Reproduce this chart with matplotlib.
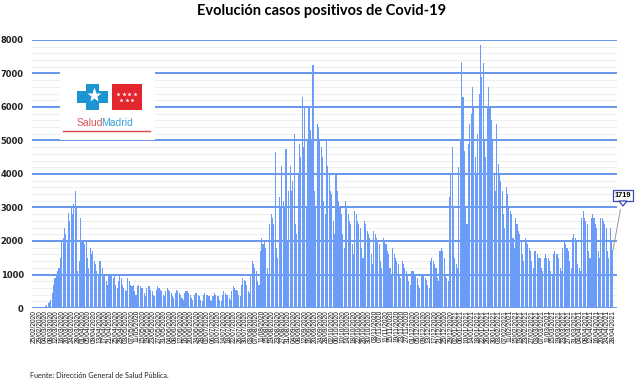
import matplotlib
matplotlib.use("Agg")
import matplotlib.pyplot as plt
from matplotlib.patches import Polygon, Rectangle
import numpy as np
import pandas as pd

# Daily positive cases, Comunidad de Madrid, from 25/02/2020 (weeks Tue..Mon)
weeks = [
    [2, 3, 5, 8, 10, 15, 25],
    [40, 70, 100, 150, 180, 250, 450],
    [700, 900, 1000, 1100, 1200, 1500, 2000],
    [2100, 2400, 2200, 2000, 2850, 2600, 3000],
    [2800, 3100, 3500, 3000, 1100, 1400, 2700],
    [2000, 2000, 1900, 2000, 1500, 1200, 1800],
    [1600, 1700, 1400, 1300, 1100, 1000, 1400],
    [1400, 1200, 1000, 1000, 800, 700, 950],
    [1000, 1000, 900, 1000, 700, 600, 800],
    [1000, 900, 700, 600, 550, 500, 900],
    [800, 700, 650, 700, 500, 400, 650],
    [700, 650, 600, 600, 450, 350, 600],
    [650, 650, 550, 500, 400, 350, 550],
    [650, 600, 550, 500, 400, 350, 500],
    [600, 550, 500, 450, 350, 300, 450],
    [550, 500, 450, 400, 300, 250, 450],
    [500, 500, 450, 400, 300, 250, 400],
    [450, 450, 400, 350, 250, 200, 400],
    [450, 400, 400, 350, 250, 200, 350],
    [450, 400, 350, 350, 250, 200, 400],
    [500, 450, 400, 400, 300, 250, 500],
    [650, 600, 550, 500, 400, 350, 700],
    [900, 850, 800, 700, 500, 450, 1000],
    [1400, 1300, 1200, 1100, 800, 700, 1700],
    [2100, 1900, 2000, 1800, 1200, 1000, 2500],
    [2800, 2700, 2500, 4650, 1800, 1500, 3300],
    [3000, 4250, 3200, 3000, 4750, 2000, 3500],
    [4250, 3500, 3800, 5200, 2500, 2200, 4000],
    [4900, 4500, 6300, 4800, 6000, 3000, 5000],
    [6000, 5300, 5000, 7250, 3500, 3000, 5500],
    [5400, 5000, 4800, 4500, 3200, 2800, 5000],
    [4250, 4000, 3500, 3400, 2600, 2200, 4000],
    [3500, 3200, 3000, 2800, 2200, 1800, 3200],
    [3000, 2800, 2600, 2500, 1900, 1600, 2900],
    [2800, 2600, 2500, 2400, 1800, 1500, 2600],
    [2500, 2300, 2200, 2100, 1600, 1300, 2300],
    [2200, 2100, 2000, 1900, 1400, 1200, 2100],
    [2000, 1900, 1700, 1600, 1200, 1000, 1800],
    [1600, 1500, 1400, 1300, 1000, 900, 1400],
    [1300, 1200, 1100, 1000, 800, 700, 1100],
    [1100, 1000, 950, 900, 700, 600, 1000],
    [1000, 950, 900, 850, 700, 600, 1400],
    [1500, 1400, 1300, 1200, 900, 800, 1700],
    [1800, 1700, 1500, 1000, 900, 800, 3300],
    [4000, 4800, 3000, 1500, 1300, 1200, 4200],
    [5000, 7340, 6300, 4700, 3000, 2500, 4900],
    [5500, 5800, 6600, 6000, 4500, 4000, 5200],
    [6400, 7850, 6900, 7300, 5000, 4500, 6000],
    [6600, 6000, 5600, 5000, 4000, 3500, 5500],
    [4300, 4000, 3800, 3500, 2800, 2400, 3600],
    [3400, 3000, 2900, 2800, 2100, 1800, 2700],
    [2500, 2300, 2200, 2000, 1600, 1400, 2100],
    [2000, 1900, 1800, 1700, 1400, 1200, 1700],
    [1700, 1600, 1500, 1500, 1200, 1100, 1500],
    [1600, 1500, 1500, 1400, 1100, 1000, 1600],
    [1700, 1600, 1600, 1500, 1200, 1100, 1800],
    [2000, 1900, 1800, 1700, 1400, 1200, 2100],
    [2200, 2100, 2000, 1300, 1200, 1100, 2700],
    [2900, 2700, 2600, 2500, 1700, 1500, 2700],
    [2800, 2700, 2500, 2400, 1700, 1500, 2700],
    [2700, 2600, 2500, 2400, 1700, 1500, 2400],
    [2000, 1719],
]
cases = [v for w in weeks for v in w]
start_date = "2020-02-25"
dates = pd.date_range(start_date, periods=len(cases), freq="D")
label_step = 4
last_value = cases[-1]

title = "Evolución casos positivos de Covid-19"
source = "Fuente: Dirección General de Salud Pública."

W, H = 644, 386
fig = plt.figure(figsize=(W / 100, H / 100), dpi=100)
ax = fig.add_axes([32 / W, 1 - 308 / H, (617 - 32) / W, (308 - 40) / H])

x = np.arange(len(cases))
ax.bar(x, cases, width=0.8, color="#6b9cf7", zorder=3, linewidth=0)

ax.set_ylim(0, 8000)
ax.set_xlim(-2, len(cases) + 2)
ax.set_yticks(np.arange(0, 8001, 1000))
ax.set_yticks(np.arange(0, 8001, 200), minor=True)
ax.grid(axis="y", which="major", color="#5b8de9", linewidth=1.3, zorder=1)
ax.grid(axis="y", which="minor", color="#ebebeb", linewidth=0.6, zorder=0)
ax.tick_params(axis="y", which="both", length=0, pad=6)
for lab in ax.get_yticklabels():
    lab.set_fontsize(6)
    lab.set_fontweight("bold")
    lab.set_color("#222222")

ticks = x[::label_step]
ax.set_xticks(ticks)
ax.set_xticklabels([dates[i].strftime("%d/%m/%Y") for i in ticks],
                   rotation=90, fontsize=4.8, family="Liberation Sans",
                   color="#111111")
ax.tick_params(axis="x", length=0, pad=1.5)
for s in ax.spines.values():
    s.set_visible(False)

fig.text(322 / W, 1 - 11 / H, title, ha="center", va="center",
         fontsize=10.5, fontweight="bold", family="Lato")
fig.text(30 / W, 1 - 376 / H, source, ha="left", va="center",
         fontsize=5.2, family="Lato", color="#222222")

# callout for last value
ax.annotate(str(last_value), xy=(x[-1], last_value), xycoords="data",
            xytext=(623, H - 195.5), textcoords="figure pixels",
            ha="center", va="center", fontsize=5.3, fontweight="bold",
            family="Liberation Sans",
            bbox=dict(boxstyle="square,pad=0.25", fc="white", ec="#3a46b8", lw=0.9),
            arrowprops=dict(arrowstyle="-", color="#9a9a9a", lw=0.7,
                            shrinkA=6, shrinkB=0),
            annotation_clip=False, zorder=6)
fig.add_artist(Polygon([[619, H - 201], [627, H - 201], [623, H - 206]],
                       closed=True, fc="white", ec="#3a46b8", lw=0.9,
                       transform=None, zorder=7))

# logo (SaludMadrid)
lg = fig.add_axes([60 / W, 1 - 140 / H, 95 / W, 72 / H])
lg.set_xlim(60, 155)
lg.set_ylim(140, 68)
lg.axis("off")
lg.add_patch(Rectangle((60, 68), 95, 72, fc="white", ec="none"))
cross = [(86, 84), (99, 84), (99, 91), (108, 91), (108, 103), (99, 103),
         (99, 110), (86, 110), (86, 103), (77, 103), (77, 91), (86, 91)]
lg.add_patch(Polygon(cross, closed=True, fc="#1e95d3", ec="none"))
lg.plot([94], [95], marker="*", ms=11, color="white", mec="none")
lg.add_patch(Rectangle((112, 84), 30, 26, fc="#e3262d", ec="none"))
for sx in [118, 123.5, 129, 134.5]:
    lg.plot([sx], [94], marker="*", ms=3.2, color="white", mec="none")
for sx in [121, 126.5, 132]:
    lg.plot([sx], [100], marker="*", ms=3.2, color="white", mec="none")
lg.text(103.5, 123, "Salud", ha="right", va="center", fontsize=7.5,
        color="#d9545e", family="Liberation Sans")
lg.text(101.0, 123, "Madrid", ha="left", va="center", fontsize=7.5,
        color="#3aa2da", family="Liberation Sans")
lg.plot([63, 150], [131, 131], color="#e3434b", lw=1.0)

fig.savefig("out.png", dpi=100)
